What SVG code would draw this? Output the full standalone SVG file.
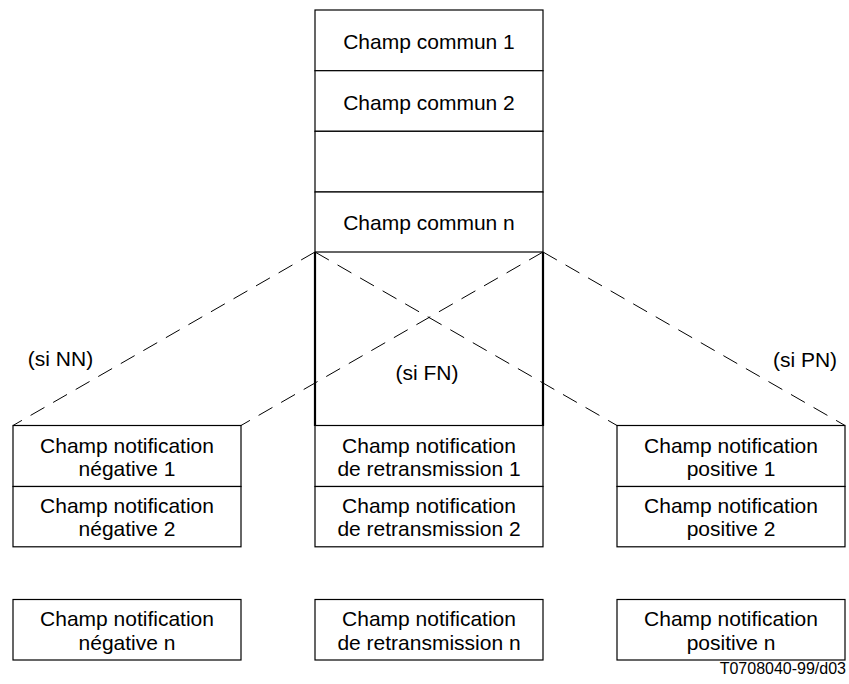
<svg xmlns="http://www.w3.org/2000/svg" width="849" height="684" viewBox="0 0 849 684">
  <style>
    .box { fill: #ffffff; stroke: #000000; stroke-width: 1.2; }
    .thick { fill: none; stroke: #000000; stroke-width: 2.2; }
    .dash { fill: none; stroke: #000000; stroke-width: 1; stroke-dasharray: 16 10; }
    text { font-family: "Liberation Sans", Arial, sans-serif; font-size: 21px; fill: #000000; text-anchor: middle; }
    .ref { font-size: 16px; text-anchor: end; }
  </style>
  <rect width="849" height="684" fill="#ffffff"/>

  <!-- common header fields -->
  <g id="common-1">
    <rect class="box" x="315" y="10" width="228" height="60.7"/>
    <text x="429" y="49">Champ commun 1</text>
  </g>
  <g id="common-2">
    <rect class="box" x="315" y="70.7" width="228" height="60.6"/>
    <text x="429" y="109.5">Champ commun 2</text>
  </g>
  <g id="common-gap">
    <rect class="box" x="315" y="131.3" width="228" height="60.7"/>
  </g>
  <g id="common-n">
    <rect class="box" x="315" y="192" width="228" height="60"/>
    <text x="429" y="230">Champ commun n</text>
  </g>

  <!-- conditional area -->
  <g id="fn-area">
    <line class="thick" x1="315" y1="252" x2="315" y2="426"/>
    <line class="thick" x1="543" y1="252" x2="543" y2="426"/>
    <text x="427" y="380">(si FN)</text>
  </g>

  <!-- negative notification fields -->
  <g id="neg-1">
    <rect class="box" x="13" y="425.5" width="228" height="61"/>
    <text x="127" y="452.5">Champ notification</text>
    <text x="127" y="476">négative 1</text>
  </g>
  <g id="neg-2">
    <rect class="box" x="13" y="486.5" width="228" height="60.3"/>
    <text x="127" y="512.5">Champ notification</text>
    <text x="127" y="535.5">négative 2</text>
  </g>
  <g id="neg-n">
    <rect class="box" x="13" y="599.5" width="228" height="60.5"/>
    <text x="127" y="626">Champ notification</text>
    <text x="127" y="649.5">négative n</text>
  </g>

  <!-- retransmission notification fields -->
  <g id="ret-1">
    <rect class="box" x="315" y="425.5" width="228" height="61"/>
    <text x="429" y="452.5">Champ notification</text>
    <text x="429" y="476">de retransmission 1</text>
  </g>
  <g id="ret-2">
    <rect class="box" x="315" y="486.5" width="228" height="60.3"/>
    <text x="429" y="512.5">Champ notification</text>
    <text x="429" y="535.5">de retransmission 2</text>
  </g>
  <g id="ret-n">
    <rect class="box" x="315" y="599.5" width="228" height="60.5"/>
    <text x="429" y="626">Champ notification</text>
    <text x="429" y="649.5">de retransmission n</text>
  </g>

  <!-- positive notification fields -->
  <g id="pos-1">
    <rect class="box" x="617" y="425.5" width="228" height="61"/>
    <text x="731" y="452.5">Champ notification</text>
    <text x="731" y="476">positive 1</text>
  </g>
  <g id="pos-2">
    <rect class="box" x="617" y="486.5" width="228" height="60.3"/>
    <text x="731" y="512.5">Champ notification</text>
    <text x="731" y="535.5">positive 2</text>
  </g>
  <g id="pos-n">
    <rect class="box" x="617" y="599.5" width="228" height="60.5"/>
    <text x="731" y="626">Champ notification</text>
    <text x="731" y="649.5">positive n</text>
  </g>

  <!-- projection lines -->
  <g id="connectors">
    <line class="dash" x1="315" y1="252" x2="13" y2="425.5"/>
    <line class="dash" x1="543" y1="252" x2="241" y2="425.5"/>
    <line class="dash" x1="315" y1="252" x2="617" y2="425.5"/>
    <line class="dash" x1="543" y1="252" x2="845" y2="425.5"/>
  </g>

  <g id="labels">
    <text x="60.5" y="366">(si NN)</text>
    <text x="805" y="367">(si PN)</text>
    <text class="ref" x="846" y="674">T0708040-99/d03</text>
  </g>
</svg>
